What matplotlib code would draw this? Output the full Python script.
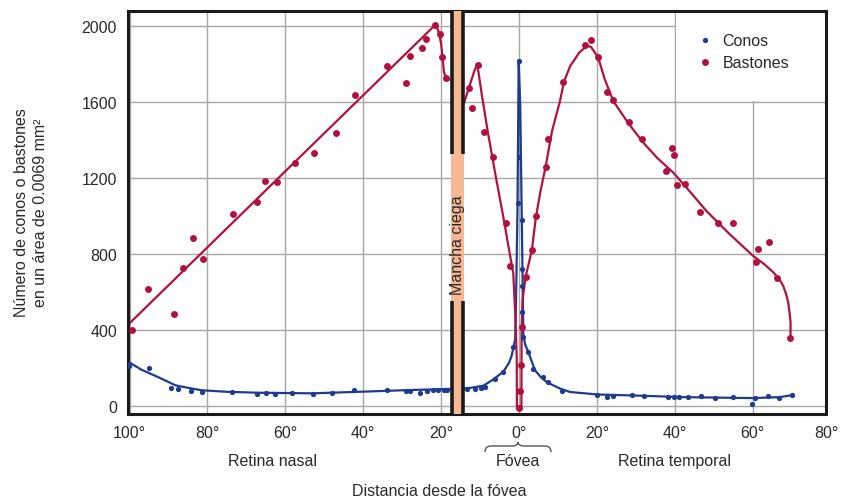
"""Densidad de conos y bastones en la retina según la distancia a la fóvea."""
import matplotlib
matplotlib.use("Agg")
import matplotlib.pyplot as plt
from matplotlib.lines import Line2D
from matplotlib.patches import Rectangle, PathPatch
from matplotlib.path import Path

plt.rcParams["font.family"] = ["Liberation Sans", "DejaVu Sans"]

# --- puntos medidos: bastones (grados; nasal negativo) ---
rod_x = [-99.5, -95.2, -88.6, -86.4, -83.6, -81.2, -73.5, -67.4, -65.1, -62.1,
         -57.5, -52.6, -47.1, -42.2, -33.9, -28.9, -27.9, -24.9, -23.8, -21.6,
         -20.2, -19.7, -18.7,
         -12.9, -12.1, -10.6, -8.9, -6.7, -3.4, -2.3,
         0.0, 0.3, 0.6, 0.7, 1.7, 3.3, 4.3, 6.9, 7.4, 11.2,
         17.0, 18.5, 20.3, 22.6, 24.0, 28.2, 31.5, 37.7, 39.2, 39.8,
         40.6, 42.6, 46.4, 51.0, 55.0, 60.9, 61.3, 64.2, 66.2, 69.5]
rod_y = [400, 614, 484, 728, 883, 772, 1009, 1074, 1184, 1181,
         1281, 1334, 1435, 1639, 1792, 1698, 1844, 1883, 1930, 2004,
         1960, 1840, 1725,
         1672, 1567, 1793, 1442, 1309, 965, 737,
         -15, 75, 215, 415, 680, 821, 1000, 1260, 1407, 1705,
         1900, 1926, 1835, 1655, 1613, 1493, 1404, 1237, 1358, 1319,
         1163, 1167, 1023, 965, 965, 758, 825, 863, 674, 358]

# --- puntos medidos: conos ---
cone_x = [-100.3, -100.1, -95.0, -89.3, -87.6, -84.3, -81.5, -73.6, -67.3, -64.9,
          -62.7, -58.3, -52.8, -47.9, -42.5, -33.8, -29.0, -28.0, -25.4, -23.7,
          -22.1, -20.7, -19.4, -18.4,
          -13.3, -11.3, -9.9, -8.7, -6.3, -4.0, -1.5, -0.4, 0.1, 0.1,
          0.8, 0.8, 0.7, 0.85, 1.1, 2.2, 3.7, 6.2, 7.5, 11.0,
          19.9, 22.5, 24.2, 28.9, 32.1, 38.2, 39.7, 41.1, 43.3, 46.7,
          50.3, 54.8, 59.9, 60.5, 63.9, 66.7, 70.0]
cone_y = [222, 208, 198, 95, 86, 76, 74, 70, 60, 67,
          63, 68, 60, 67, 81, 81, 76, 76, 67, 79,
          81, 81, 83, 83,
          88, 90, 93, 97, 140, 179, 309, 1067, 1815, 1312,
          981, 720, 628, 495, 362, 281, 195, 153, 124, 78,
          58, 47, 53, 55, 51, 46, 46, 44, 44, 51,
          39, 44, 9, 41, 49, 42, 55]

# --- curvas ajustadas ---
rod_fit_nasal_x = [-101, -22.6, -21.8, -21.0, -20.5, -20.0, -19.6, -19.3, -18.8, -17.9]
rod_fit_nasal_y = [414, 1985, 2002, 1990, 1960, 1905, 1825, 1760, 1728, 1720]
rod_fit_temp_x = [-14.1, -12.6, -11.4, -10.7, -9.5, -8.0, -6.0, -4.0, -2.3, -1.5,
                  -0.9, -0.6, -0.55, 0.6, 0.65, 0.9, 1.7, 3.3, 4.3, 5.5,
                  6.8, 8.5, 10.5, 11.5, 13.1, 15.5, 17.5, 18.5, 20.3, 22.0,
                  24.2, 28.0, 31.9, 35.5, 39.6, 44.0, 48.1, 54.0, 60.1, 63.0,
                  65.3, 66.7, 67.8, 68.6, 69.1, 69.5, 69.7, 69.7]
rod_fit_temp_y = [1597, 1693, 1770, 1795, 1630, 1440, 1210, 990, 790, 700,
                  450, 250, -15, -15, 400, 560, 680, 821, 990, 1130,
                  1258, 1450, 1605, 1705, 1789, 1862, 1897, 1890, 1835, 1720,
                  1605, 1490, 1386, 1305, 1228, 1125, 1026, 905, 789, 745,
                  702, 670, 632, 585, 544, 480, 439, 358]
cone_fit_x = [-101, -97, -92.5, -88.2, -84, -81.4, -75, -66.8, -53, -41.2,
              -28.4, -18, -13, -9.2, -6.6, -4, -2.6, -1.9, -1.0, -0.8,
              -0.4, -0.1, 0.3, 0.7, 1.1, 1.6, 2.4, 4.1, 5.5, 7.1,
              10.5, 13.1, 20, 30.2, 42.1, 55.8, 60.1, 66.9, 70]
cone_fit_y = [240, 190, 149, 107, 90, 81, 73, 68, 65, 73,
              82, 88, 92, 105, 138, 180, 225, 263, 350, 526,
              1053, 1820, 1580, 983, 370, 320, 281, 186, 152, 124,
              90, 72, 59, 53, 45, 41, 40, 45, 55]

x_ticks = [-100, -80, -60, -40, -20, 0, 20, 40, 60]
x_tick_labels = ["100°", "80°", "60°", "40°", "20°", "0°", "20°", "40°", "60°"]
y_ticks = [0, 400, 800, 1200, 1600, 2000]

ROD_COLOR = "#B0123F"
CONE_COLOR = "#1F3C8C"
TEXT_COLOR = "#2A2A2A"
FS = 11.5

W, H = 841, 502
fig = plt.figure(figsize=(W / 100, H / 100), dpi=100)
ax = fig.add_axes([128 / W, 1 - 415 / H, 698 / W, 403 / H])

ax.set_xlim(-100.4, 78.8)
ax.set_ylim(-44, 2080)
ax.set_xticks(x_ticks)
ax.set_xticklabels(x_tick_labels)
ax.set_yticks(y_ticks)
ax.tick_params(length=0, labelsize=FS, labelcolor=TEXT_COLOR, pad=8)
ax.annotate("80°", xy=(1.0, 0), xycoords="axes fraction", xytext=(0, -8),
            textcoords="offset points", ha="center", va="top",
            fontsize=FS, color=TEXT_COLOR)

ax.set_axisbelow(True)
ax.grid(color="#A8A8A8", linewidth=1.0)
for sp in ax.spines.values():
    sp.set_linewidth(2.2)
    sp.set_color("#1A1A1A")

# hueco blanco de la leyenda
ax.add_patch(Rectangle((40.35, 1608), 60, 600, facecolor="white",
                       edgecolor="none", zorder=0.8))

# curvas
ax.plot(cone_fit_x, cone_fit_y, color=CONE_COLOR, lw=1.6, zorder=2)
ax.plot(rod_fit_nasal_x, rod_fit_nasal_y, color=ROD_COLOR, lw=1.6, zorder=2)
ax.plot(rod_fit_temp_x, rod_fit_temp_y, color=ROD_COLOR, lw=1.6, zorder=2)

# puntos
ax.plot(rod_x, rod_y, "o", color=ROD_COLOR, ms=5, mew=0, zorder=3)
ax.plot(cone_x, cone_y, "o", color=CONE_COLOR, ms=3.8, mew=0, zorder=3)

# mancha ciega
ax.axvspan(-17.5, -14.1, color="#F6B794", lw=0, zorder=4)
ax.vlines([-17.26, -14.36], 1325, 2200, color="#1A1A1A", lw=2.6, zorder=5)
ax.vlines([-17.26, -14.36], -100, 550, color="#1A1A1A", lw=2.6, zorder=5)
ax.text(-15.8, 850, "Mancha ciega", rotation=90, ha="center", va="center",
        fontsize=FS, color=TEXT_COLOR, zorder=6)

# leyenda
handles = [
    Line2D([], [], ls="none", marker="o", ms=3.8, mew=0, color=CONE_COLOR),
    Line2D([], [], ls="none", marker="o", ms=5, mew=0, color=ROD_COLOR),
]
ax.legend(handles, ["Conos", "Bastones"], loc="upper left",
          bbox_to_anchor=(0.815, 0.945), frameon=False, fontsize=FS,
          handlelength=1.0, handletextpad=0.6, borderpad=0,
          borderaxespad=0, labelspacing=0.45, labelcolor=TEXT_COLOR)

# textos
fig.text(31 / W, 1 - 213 / H,
         "Número de conos o bastones\nen un área de 0.0069 mm²",
         rotation=90, ha="center", va="center", multialignment="center",
         fontsize=FS, color=TEXT_COLOR, linespacing=1.35)
fig.text(272 / W, 1 - 462 / H, "Retina nasal", ha="center", va="center",
         fontsize=FS, color=TEXT_COLOR)
fig.text(518 / W, 1 - 462 / H, "Fóvea", ha="center", va="center",
         fontsize=FS, color=TEXT_COLOR)
fig.text(675 / W, 1 - 462 / H, "Retina temporal", ha="center", va="center",
         fontsize=FS, color=TEXT_COLOR)
fig.text(439 / W, 1 - 492 / H, "Distancia desde la fóvea", ha="center",
         va="center", fontsize=FS, color=TEXT_COLOR)

# llave sobre "Fóvea"
brace_px = [(485, 453), (485, 447), (491, 447), (512, 447), (518, 447),
            (518, 443), (518, 447), (524, 447), (545, 447), (551, 447),
            (551, 453)]
codes = [Path.MOVETO, Path.CURVE3, Path.CURVE3, Path.LINETO, Path.CURVE3,
         Path.CURVE3, Path.CURVE3, Path.CURVE3, Path.LINETO, Path.CURVE3,
         Path.CURVE3]
verts = [(px / W, 1 - py / H) for px, py in brace_px]
fig.add_artist(PathPatch(Path(verts, codes), transform=fig.transFigure,
                         fill=False, edgecolor="#555555", lw=1.0))

fig.savefig("out.png", dpi=100)
